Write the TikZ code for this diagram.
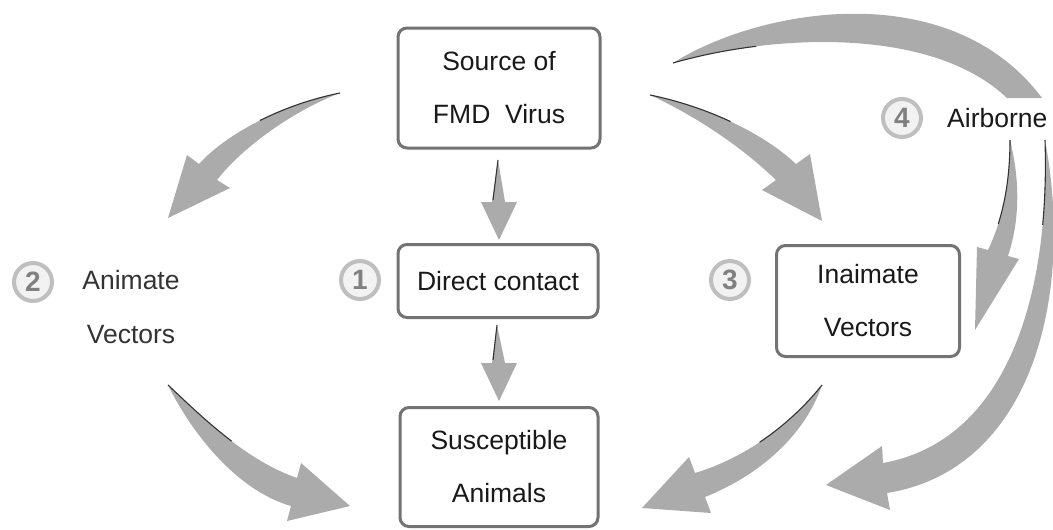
\documentclass[tikz,border=0pt]{standalone}
\usepackage{fontspec}
\setmainfont{Liberation Sans}

\begin{document}
\begin{tikzpicture}[x=1pt,y=-1pt,
  box/.style={draw=black!55, line width=3pt, rounded corners=9pt, fill=white, align=center, inner sep=0pt, font=\fontsize{26.5}{53}\selectfont, text=black!90},
  badge/.style={circle, draw=black!25, line width=4pt, fill=black!5, minimum size=38pt, inner sep=0pt, font=\fontsize{28}{28}\selectfont\bfseries, text=black!50},
  lbl/.style={align=center, inner sep=0pt, font=\fontsize{26.5}{54}\selectfont, text=black!80},
  arr/.style={fill=black!33},
  tail/.style={draw=black!80, line width=1.1pt, dash pattern=on 85pt off 2000pt}]
\useasboundingbox[fill=white] (0,0) rectangle (1053,530);

% boxes and labels
\node[box, minimum width=202pt, minimum height=120pt] (src) at (499,88) {Source of\\FMD\ \ Virus};
\node[box, minimum width=200pt, minimum height=73pt] (direct) at (498,281) {Direct contact};
\node[box, minimum width=198pt, minimum height=119pt] (sus) at (499,467) {Susceptible\\Animals};
\node[box, minimum width=183pt, minimum height=111pt] (inaim) at (868,301) {Inaimate\\Vectors};
\node[lbl] (anim) at (131,307) {Animate\\Vectors};
\node[lbl, text=black!90, anchor=west] (air) at (947,118) {Airborne};
\node[badge] (n1) at (360,280) {1};
\node[badge] (n2) at (33,282) {2};
\node[badge] (n3) at (730,280) {3};
\node[badge] (n4) at (902,118) {4};

% 1: direct contact
\fill[arr] (498,160) -- (505,202) -- (517,202) -- (499,240) -- (481,202) -- (492,202) -- cycle;
\draw[tail] (498,160) -- (493,200);
\fill[arr] (497,325) -- (505,363) -- (517,363) -- (499,401) -- (481,363) -- (492,363) -- cycle;
\draw[tail] (497,325) -- (493,360);

% 2: animate vectors
\coordinate (t2a) at (340,93);
\fill[arr] (t2a) .. controls (280,105) and (225,135) .. (199,164) -- (187,155) -- (168,218)
  -- (230,188) -- (217,180) .. controls (240,150) and (290,112) .. (t2a) -- cycle;
\draw[tail] (t2a) .. controls (280,105) and (225,135) .. (199,164);
\coordinate (t2b) at (168,385);
\fill[arr] (t2b) .. controls (200,415) and (245,460) .. (297,478) -- (301,463) -- (350,506)
  -- (287,521) -- (291,506) .. controls (235,490) and (190,430) .. (t2b) -- cycle;
\draw[tail] (t2b) .. controls (200,415) and (245,460) .. (297,478);

% 3: inanimate vectors
\coordinate (t3a) at (650,95);
\fill[arr] (t3a) .. controls (700,105) and (760,130) .. (796,164) -- (810,154) -- (822,221)
  -- (762,190) -- (776,180) .. controls (745,150) and (700,118) .. (t3a) -- cycle;
\draw[tail] (t3a) .. controls (700,105) and (760,130) .. (796,164);
\coordinate (t3b) at (822,385);
\fill[arr] (t3b) .. controls (790,425) and (745,458) .. (695,473) -- (689,457) -- (642,508)
  -- (711,513) -- (705,497) .. controls (760,475) and (805,435) .. (t3b) -- cycle;
\draw[tail] (t3b) .. controls (790,425) and (745,458) .. (695,473);

% 4: airborne
\coordinate (t4a) at (673,63);
\fill[arr] (t4a) .. controls (760,8) and (950,-25) .. (1042,98) -- (1007,98)
  .. controls (930,25) and (770,35) .. (t4a) -- cycle;
\draw[tail] (t4a) .. controls (770,35) and (930,25) .. (1007,98);
\coordinate (t4b) at (1010,140);
\fill[arr] (t4b) .. controls (1010,190) and (1000,225) .. (988,250) -- (977,247) -- (975,330)
  -- (1019,259) -- (1008,256) .. controls (1020,220) and (1020,180) .. (t4b) -- cycle;
\draw[tail] (t4b) .. controls (1010,190) and (1000,225) .. (988,250);
\coordinate (t4c) at (1045,140);
\fill[arr] (t4c) .. controls (1075,300) and (1030,470) .. (887,493) -- (890,510) -- (826,485)
  -- (882,446) -- (883,463) .. controls (1010,440) and (1050,290) .. (t4c) -- cycle;
\draw[tail] (t4c) .. controls (1050,290) and (1010,440) .. (883,463);
\end{tikzpicture}
\end{document}
